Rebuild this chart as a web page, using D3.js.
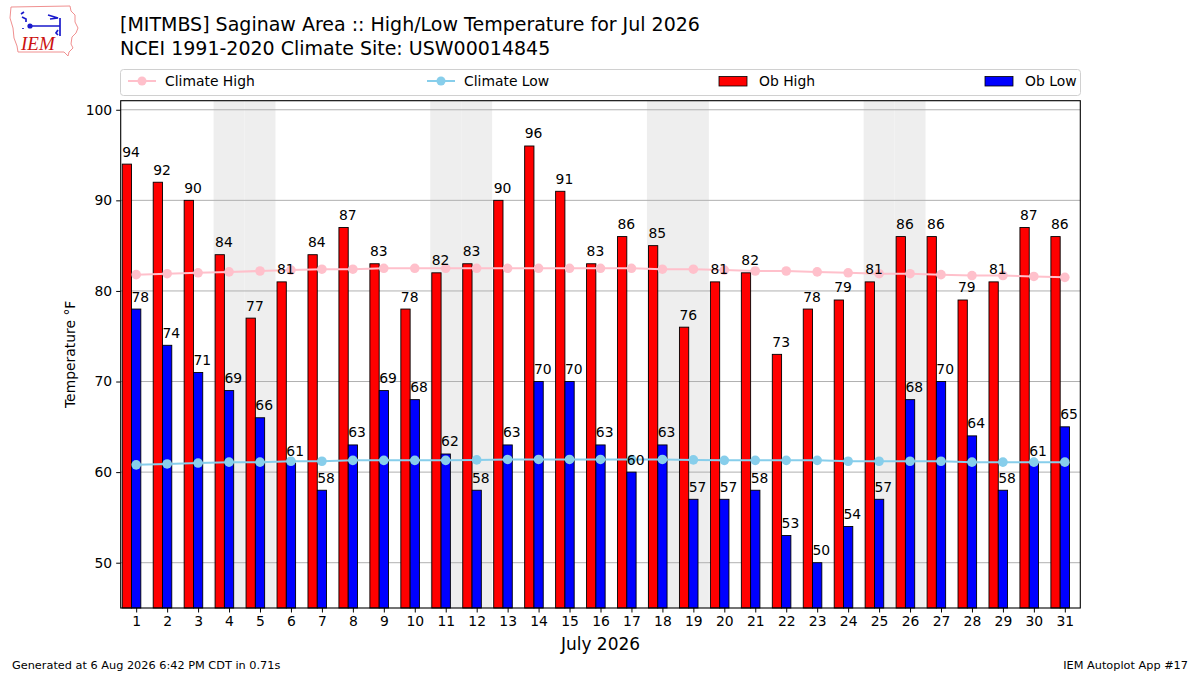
<!DOCTYPE html>
<html><head><meta charset="utf-8">
<script src="https://cdn.jsdelivr.net/npm/d3@7/dist/d3.min.js"></script>
<style>
html,body{margin:0;padding:0;background:#fff;}
</style></head>
<body><svg id="c" width="1200" height="675" font-family="DejaVu Sans, sans-serif"></svg>
<script>
const days = d3.range(1, 32);
const obHigh = [94,92,90,84,77,81,84,87,83,78,82,83,90,96,91,83,86,85,76,81,82,73,78,79,81,86,86,79,81,87,86];
const obLow  = [78,74,71,69,66,61,58,63,69,68,62,58,63,70,70,63,60,63,57,57,58,53,50,54,57,68,70,64,58,61,65];
const climHigh = [81.8,81.9,82.0,82.1,82.2,82.3,82.4,82.4,82.5,82.5,82.5,82.5,82.5,82.5,82.5,82.5,82.5,82.4,82.4,82.3,82.2,82.2,82.1,82.0,81.9,81.9,81.8,81.7,81.7,81.6,81.5];
const climLow = [60.8,60.9,61.0,61.1,61.1,61.2,61.2,61.3,61.3,61.3,61.3,61.35,61.4,61.4,61.4,61.4,61.4,61.4,61.35,61.3,61.3,61.3,61.3,61.2,61.2,61.2,61.2,61.1,61.1,61.1,61.1];
const weekends = [4,5,11,12,18,19,25,26];
const yTicks = [50,60,70,80,90,100];
const legendItems = [
  {label:"Climate High", type:"line", color:"pink", x:128},
  {label:"Climate Low", type:"line", color:"skyblue", x:427},
  {label:"Ob High", type:"rect", color:"red", x:719},
  {label:"Ob Low", type:"rect", color:"blue", x:985}
];

const svg = d3.select("#c");
const L = 120.7, R = 1080.3, T = 100.7, B = 608;
const FS = 13.9;
const x = d3.scaleLinear().domain([0.5, 31.5]).range([L, R]);
const y = d3.scaleLinear().domain([45, 101]).range([B, T]);

// titles
svg.append("text").attr("x",120).attr("y",31).attr("font-size",19).attr("fill","#000")
  .text("[MITMBS] Saginaw Area :: High/Low Temperature for Jul 2026");
svg.append("text").attr("x",120).attr("y",54.5).attr("font-size",19).attr("fill","#000")
  .text("NCEI 1991-2020 Climate Site: USW00014845");

// logo
const logo = svg.append("g");
logo.append("path").attr("d","M11,7 L70,6 L71,11 L75,15 L75,22 L78,28 L76,33 L72,37 L71,44 L73,48 L69,52 L68,56 L64,52 L18,52 L17,46 L14,38 L13,28 L10,18 Z")
  .attr("fill","none").attr("stroke","#f09090").attr("stroke-width",1);
logo.append("path").attr("d","M21,14 L24,12 M22,17 L26,19 L26,22 M30,26 L60,26 M48,15 L58,18 L50,19 M60,18 L60,36 M58,30 L56,33 L58,35 M23,28 L23,29")
  .attr("fill","none").attr("stroke","#1a1acc").attr("stroke-width",1.7);
logo.append("circle").attr("cx",30).attr("cy",26).attr("r",2.6).attr("fill","#1a1acc");
logo.append("text").attr("x",21).attr("y",50).attr("font-family","Liberation Serif, serif")
  .attr("font-style","italic").attr("font-size",19).attr("fill","#cc1111").text("IEM");

// legend
const lg = svg.append("g");
lg.append("rect").attr("x",120.5).attr("y",69.5).attr("width",960).attr("height",26).attr("rx",3)
  .attr("fill","#fff").attr("stroke","#d0d0d0").attr("stroke-width",1);
legendItems.forEach(it => {
  if (it.type === "line") {
    lg.append("line").attr("x1",it.x).attr("x2",it.x+28).attr("y1",81).attr("y2",81)
      .attr("stroke",it.color).attr("stroke-width",2);
    lg.append("circle").attr("cx",it.x+14).attr("cy",81).attr("r",4.5).attr("fill",it.color);
    lg.append("text").attr("x",it.x+37).attr("y",86).attr("font-size",FS).text(it.label);
  } else {
    lg.append("rect").attr("x",it.x).attr("y",76.5).attr("width",28).attr("height",9.5)
      .attr("fill",it.color).attr("stroke","#000").attr("stroke-width",0.8);
    lg.append("text").attr("x",it.x+40).attr("y",86).attr("font-size",FS).text(it.label);
  }
});

// weekend shading
svg.append("g").selectAll("rect").data(weekends).join("rect")
  .attr("x", d => x(d-0.5)).attr("width", d => x(d+0.5)-x(d-0.5))
  .attr("y", T).attr("height", B-T).attr("fill","#eeeeee");

// grid
svg.append("g").selectAll("line").data(yTicks).join("line")
  .attr("x1",L).attr("x2",R).attr("y1",d=>y(d)).attr("y2",d=>y(d))
  .attr("stroke","#b0b0b0").attr("stroke-width",1);

// bars
const bw = 0.3;
svg.append("g").selectAll("rect").data(days).join("rect")
  .attr("x", d => x(d-0.45)).attr("width", d => x(d-0.45+bw)-x(d-0.45))
  .attr("y", (d,i) => y(obHigh[i])).attr("height", (d,i) => B - y(obHigh[i]))
  .attr("fill","red").attr("stroke","#000").attr("stroke-width",0.9);
svg.append("g").selectAll("rect").data(days).join("rect")
  .attr("x", d => x(d-0.15)).attr("width", d => x(d-0.15+bw)-x(d-0.15))
  .attr("y", (d,i) => y(obLow[i])).attr("height", (d,i) => B - y(obLow[i]))
  .attr("fill","blue").attr("stroke","#000").attr("stroke-width",0.9);

// climate lines
function climLine(vals, color) {
  const g = svg.append("g");
  g.append("path").datum(days).attr("fill","none").attr("stroke",color).attr("stroke-width",2)
    .attr("d", d3.line().x(d=>x(d)).y((d,i)=>y(vals[i])));
  g.selectAll("circle").data(days).join("circle")
    .attr("cx", d=>x(d)).attr("cy",(d,i)=>y(vals[i])).attr("r",4.8).attr("fill",color);
}
climLine(climHigh, "pink");
climLine(climLow, "skyblue");

// bar labels
svg.append("g").selectAll("text").data(days).join("text")
  .attr("x", d => x(d-0.45)).attr("y", (d,i) => y(obHigh[i]) - 7.5)
  .attr("font-size",FS).attr("fill","#000").text((d,i)=>obHigh[i]);
svg.append("g").selectAll("text").data(days).join("text")
  .attr("x", d => x(d-0.15)).attr("y", (d,i) => y(obLow[i]) - 7.5)
  .attr("font-size",FS).attr("fill","#000").text((d,i)=>obLow[i]);

// axes
const xAxis = svg.append("g").attr("transform",`translate(0,${B})`)
  .call(d3.axisBottom(x).tickValues(days).tickSize(4.5).tickPadding(4).tickFormat(d3.format("d")));
const yAxis = svg.append("g").attr("transform",`translate(${L},0)`)
  .call(d3.axisLeft(y).tickValues(yTicks).tickSize(4.5).tickPadding(4).tickFormat(d3.format("d")));
[xAxis,yAxis].forEach(a => {
  a.select(".domain").remove();
  a.selectAll("text").attr("font-size",FS).attr("font-family","DejaVu Sans").attr("fill","#000");
  a.selectAll("line").attr("stroke","#000");
});
svg.append("rect").attr("x",L).attr("y",T).attr("width",R-L).attr("height",B-T)
  .attr("fill","none").attr("stroke","#000").attr("stroke-width",1.1);

svg.append("text").attr("x",(L+R)/2).attr("y",650).attr("text-anchor","middle")
  .attr("font-size",17).text("July 2026");
svg.append("text").attr("transform",`translate(75,${(T+B)/2}) rotate(-90)`).attr("text-anchor","middle")
  .attr("font-size",FS).text("Temperature °F");

svg.append("text").attr("x",12).attr("y",669).attr("font-size",11.3).text("Generated at 6 Aug 2026 6:42 PM CDT in 0.71s");
svg.append("text").attr("x",1188).attr("y",669).attr("text-anchor","end").attr("font-size",11.3).text("IEM Autoplot App #17");
</script></body></html>
